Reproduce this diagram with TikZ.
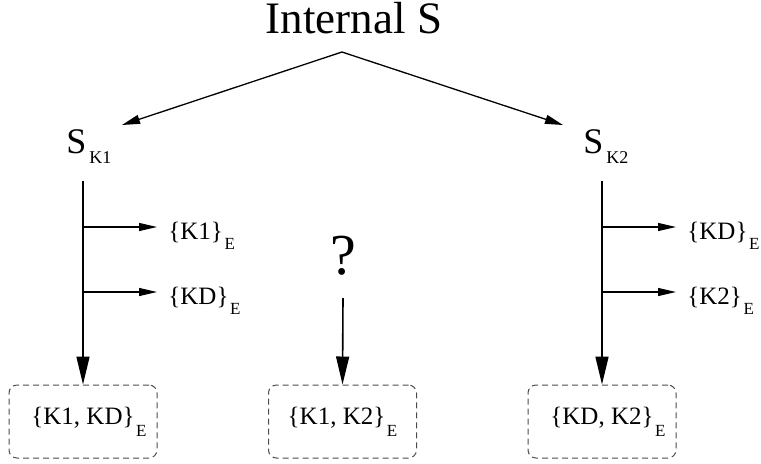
\documentclass[tikz,border=0pt]{standalone}
\usepackage{fontspec}
\setmainfont{Liberation Serif}
\usetikzlibrary{calc}
\usetikzlibrary{arrows.meta}
\newcommand{\encE}[2]{\{#1\}\kern0.8pt\raisebox{-#2}{\fontsize{8.5}{8.5}\selectfont E}}
\begin{document}
\begin{tikzpicture}[x=0.5pt,y=-0.5pt]
\tikzset{bigarrow/.style={line width=0.8pt,-{Triangle[length=14pt,width=6.5pt]}},
  splitarrow/.style={line width=0.65pt,-{Triangle[length=9pt,width=4.5pt]}},
  sendarrow/.style={line width=0.55pt,-{Triangle[length=9pt,width=4pt]},shorten >=5.5pt},
  keylabel/.style={anchor=base west,inner sep=0pt,font=\fontsize{12.5}{12.5}\selectfont},
  encbox/.style={draw=black!70,dashed,dash pattern=on 3pt off 2pt,line width=0.5pt,rounded corners=4pt,
    minimum width=74pt,minimum height=36.5pt,inner sep=0pt,font=\fontsize{12.5}{12.5}\selectfont}}
\useasboundingbox (0,0) rectangle (761,463);
\def\subdrop{5pt}
\node[anchor=base,inner sep=0pt,font=\fontsize{22.5}{22.5}\selectfont] (top) at (354,33) {Internal S};
\node[anchor=base west,inner sep=0pt,font=\fontsize{18}{18}\selectfont] (sk1) at (66,153)
  {S\kern1.5pt\raisebox{-5pt}{\fontsize{9}{9}\selectfont K1}};
\node[anchor=base west,inner sep=0pt,font=\fontsize{18}{18}\selectfont] (sk2) at (583,153)
  {S\kern1.5pt\raisebox{-5pt}{\fontsize{9}{9}\selectfont K2}};
\node[anchor=base,inner sep=0pt,font=\fontsize{29}{29}\selectfont] (q) at (343,274) {?};

\coordinate (apex) at (342,52);
\coordinate (tip1) at (122,125);
\coordinate (tip2) at (563,125);
\draw[splitarrow] (apex) -- (tip1);
\draw[splitarrow] (apex) -- (tip2);

% sent keys
\node[keylabel] (k1a) at (168,239) {\encE{K1}{\subdrop}};
\node[keylabel] (k1b) at (168,304) {\encE{KD}{\subdrop}};
\node[keylabel] (k2a) at (687,239) {\encE{KD}{\subdrop}};
\node[keylabel] (k2b) at (687,304) {\encE{K2}{\subdrop}};

% results
\node[encbox] (b1) at (83,421.5) {\hspace{6pt}\encE{K1, KD}{6pt}};
\node[encbox] (b2) at (342.5,421.5) {\encE{K1, K2}{6pt}};
\node[encbox] (b3) at (602,421.5) {\hspace{6pt}\encE{KD, K2}{6pt}};

\coordinate (v1) at (83,181);
\coordinate (v2) at (602,181);
\coordinate (v3) at (343,298);
\draw[bigarrow] (v1) -- (b1.north);
\draw[bigarrow] (v2) -- (b3.north);
\draw[bigarrow] (v3) -- (b2.north);

\coordinate (s1) at (83,227);
\coordinate (s2) at (83,292);
\coordinate (s3) at (602,227);
\coordinate (s4) at (602,292);
\draw[sendarrow] (s1) -- (s1 -| k1a.west);
\draw[sendarrow] (s2) -- (s2 -| k1b.west);
\draw[sendarrow] (s3) -- (s3 -| k2a.west);
\draw[sendarrow] (s4) -- (s4 -| k2b.west);
\end{tikzpicture}
\end{document}
